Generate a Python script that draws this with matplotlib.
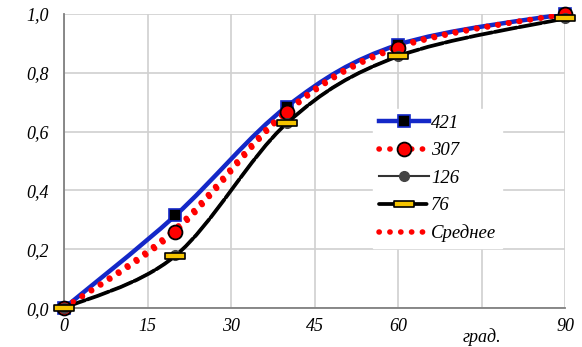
import matplotlib.pyplot as plt
import numpy as np
from matplotlib.path import Path
from matplotlib.patches import PathPatch
from matplotlib.lines import Line2D

plt.rcParams['font.family'] = ['Liberation Serif', 'DejaVu Serif']
plt.rcParams['font.style'] = 'italic'
plt.rcParams['font.size'] = 13

# angle, degrees
angles = [0, 20, 40, 60, 90]
s421 = [0.0, 0.315, 0.685, 0.895, 1.0]
s307 = [0.0, 0.26, 0.665, 0.885, 1.0]
s126 = [0.0, 0.18, 0.63, 0.857, 0.985]
s76 = [0.0, 0.178, 0.628, 0.856, 0.985]
mean = [0.0, 0.27, 0.672, 0.89, 1.0]

xticks = [0, 15, 30, 45, 60, 75, 90]
xticklabels = ['0', '15', '30', '45', '60', '', '90']
yticks = [0.0, 0.2, 0.4, 0.6, 0.8, 1.0]


def smooth_path(x, y):
    # Bezier spline through the points, same idea as a spreadsheet "smoothed line"
    p = np.column_stack([x, y]).astype(float)
    n = len(p)
    verts = [p[0]]
    codes = [Path.MOVETO]
    for i in range(n - 1):
        prev = p[max(i - 1, 0)]
        nxt = p[min(i + 2, n - 1)]
        c1 = p[i] + (p[i + 1] - prev) / 6
        c2 = p[i + 1] - (nxt - p[i]) / 6
        verts += [c1, c2, p[i + 1]]
        codes += [Path.CURVE4] * 3
    return Path(verts, codes)


bar = Path([(-1.6, -0.5), (1.6, -0.5), (1.6, 0.5), (-1.6, 0.5), (-1.6, -0.5)],
           [Path.MOVETO, Path.LINETO, Path.LINETO, Path.LINETO, Path.CLOSEPOLY])

dots = (0, (0.05, 1.9))
styles = [
    (s421, dict(color='#1428c8', lw=3.2, ls='-'),
     dict(marker='s', ms=9, mfc='black', mec='#1428c8', mew=1.2), '421'),
    (s307, dict(color='red', lw=4.0, ls=dots),
     dict(marker='o', ms=10, mfc='red', mec='black', mew=1.3), '307'),
    (s126, dict(color='#333333', lw=1.5, ls='-'),
     dict(marker='o', ms=7, mfc='#444444', mec='#444444', mew=1), '126'),
    (s76, dict(color='black', lw=2.7, ls=(0, (6, 0.7))),
     dict(marker=bar, ms=15, mfc='#f5c400', mec='black', mew=1.2), '76'),
    (mean, dict(color='red', lw=4.0, ls=dots), None, 'Среднее'),
]

fig, ax = plt.subplots(figsize=(5.82, 3.47), dpi=100)
plt.subplots_adjust(left=0.110, right=0.971, bottom=0.112, top=0.960)

handles = []
for z, (vals, line, mark, name) in enumerate(styles):
    patch = PathPatch(smooth_path(angles, vals), fill=False, edgecolor=line['color'],
                      lw=line['lw'], ls=line['ls'], capstyle='round', zorder=3 + z)
    ax.add_patch(patch)
    if mark:
        ax.plot(angles, vals, ls='none', zorder=10 + z, clip_on=False, **mark)
        handles.append(Line2D([], [], color=line['color'], lw=line['lw'], ls=line['ls'],
                              dash_capstyle='round', **mark))
    else:
        handles.append(Line2D([], [], color=line['color'], lw=line['lw'], ls=line['ls'],
                              dash_capstyle='round'))

ax.set_xlim(0, 90)
ax.set_ylim(0, 1.0)
ax.set_xticks(xticks)
ax.set_xticklabels(xticklabels)
ax.set_yticks(yticks)
ax.set_yticklabels([f'{v:.1f}'.replace('.', ',') for v in yticks])
ax.tick_params(length=0, labelsize=13, pad=7)
ax.tick_params(axis='y', pad=11)
ax.grid(True, color='#d0d0d0', lw=1.2)
ax.set_axisbelow(True)
for s in ['top', 'right']:
    ax.spines[s].set_visible(False)
for s in ['left', 'bottom']:
    ax.spines[s].set_color('#808080')
    ax.spines[s].set_linewidth(1.3)

ax.annotate('град.', xy=(75, -0.1), xycoords=('data', 'axes fraction'),
            ha='center', va='center', fontsize=13)

leg = ax.legend(handles, ['421', '307', '126', '76', 'Среднее'],
                loc='center left', bbox_to_anchor=(0.598, 0.44),
                frameon=True, framealpha=1, edgecolor='white', fancybox=False,
                handlelength=2.7, handletextpad=0.1, labelspacing=0.55,
                fontsize=13.5, borderpad=0.3)
leg.set_zorder(30)

plt.savefig('out.png', dpi=100)
